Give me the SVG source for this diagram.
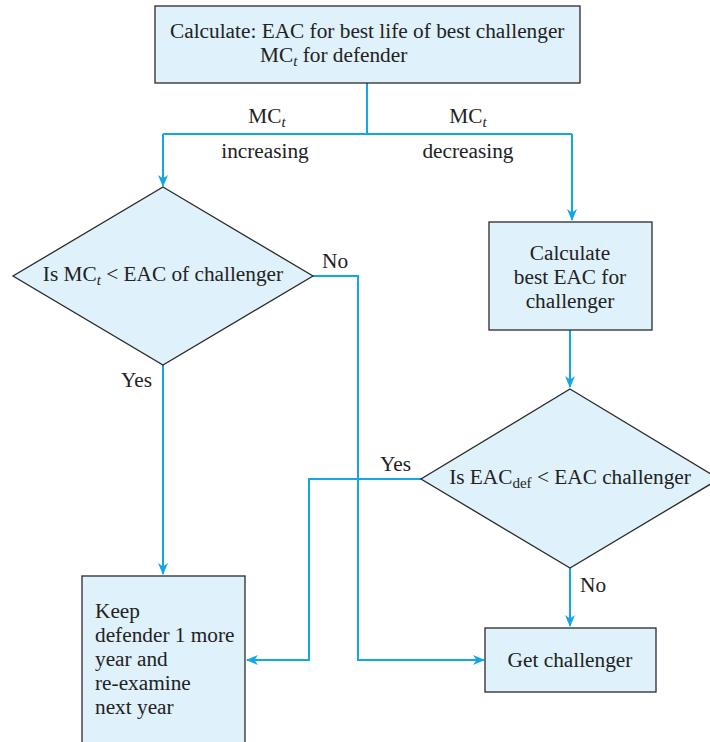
<svg xmlns="http://www.w3.org/2000/svg" width="710" height="742" viewBox="0 0 710 742">
<defs>
<marker id="ah" viewBox="0 0 12 10" refX="11" refY="5" markerWidth="12" markerHeight="10" markerUnits="userSpaceOnUse" orient="auto">
<path d="M0,0 L12,5 L0,10 L3.5,5 z" fill="#14a7e6"/>
</marker>
<style>
.n{fill:#dff1fb;stroke:#2a2a2a;stroke-width:1.3}
.c{fill:none;stroke:#14a7e6;stroke-width:2}
text{font-family:"Liberation Serif","Times New Roman",serif;font-size:21.3px;fill:#222}
.m{text-anchor:middle}
.s{font-size:15px}
</style>
</defs>
<rect width="710" height="742" fill="#fff"/>
<g id="connectors">
<path class="c" d="M367,83 V134"/>
<path class="c" d="M163,134 H572"/>
<path class="c" d="M163,134 V186" marker-end="url(#ah)"/>
<path class="c" d="M572,134 V220" marker-end="url(#ah)"/>
<path class="c" d="M570,330 V387" marker-end="url(#ah)"/>
<path class="c" d="M163,365 V574" marker-end="url(#ah)"/>
<path class="c" d="M313,276 H358 V660 H484" marker-end="url(#ah)"/>
<path class="c" d="M421,479 H309 V660 H247" marker-end="url(#ah)"/>
<path class="c" d="M570,568 V626" marker-end="url(#ah)"/>
<text class="m" x="267" y="123">MC<tspan font-style="italic" class="s" dy="4">t</tspan></text>
<text class="m" x="265" y="158">increasing</text>
<text class="m" x="468" y="123">MC<tspan font-style="italic" class="s" dy="4">t</tspan></text>
<text class="m" x="468" y="158">decreasing</text>
<text x="322" y="268">No</text>
<text x="121" y="387">Yes</text>
<text x="380" y="471">Yes</text>
<text x="580" y="592">No</text>
</g>
<g id="n-start">
<rect class="n" x="155" y="6" width="425" height="77"/>
<text x="170" y="38">Calculate: EAC for best life of best challenger</text>
<text x="260" y="62">MC<tspan font-style="italic" class="s" dy="4">t</tspan><tspan dy="-4"> for defender</tspan></text>
</g>
<g id="n-d1">
<path class="n" d="M163,187 L313,276 L163,365 L13,276 z"/>
<text class="m" x="163" y="281">Is MC<tspan font-style="italic" class="s" dy="4">t</tspan><tspan dy="-4"> &lt; EAC of challenger</tspan></text>
</g>
<g id="n-calc">
<rect class="n" x="489" y="222" width="163" height="108"/>
<text class="m" x="570" y="260">Calculate</text>
<text class="m" x="570" y="284">best EAC for</text>
<text class="m" x="570" y="308">challenger</text>
</g>
<g id="n-d2">
<path class="n" d="M570,389 L719,479 L570,568 L421,479 z"/>
<text class="m" x="570" y="484">Is EAC<tspan class="s" dy="4">def</tspan><tspan dy="-4"> &lt; EAC challenger</tspan></text>
</g>
<g id="n-keep">
<rect class="n" x="82" y="576" width="163" height="170"/>
<text x="95" y="618">Keep</text>
<text x="95" y="642">defender 1 more</text>
<text x="95" y="666">year and</text>
<text x="95" y="690">re-examine</text>
<text x="95" y="714">next year</text>
</g>
<g id="n-get">
<rect class="n" x="485" y="628" width="171" height="64"/>
<text class="m" x="570" y="667">Get challenger</text>
</g>
</svg>
